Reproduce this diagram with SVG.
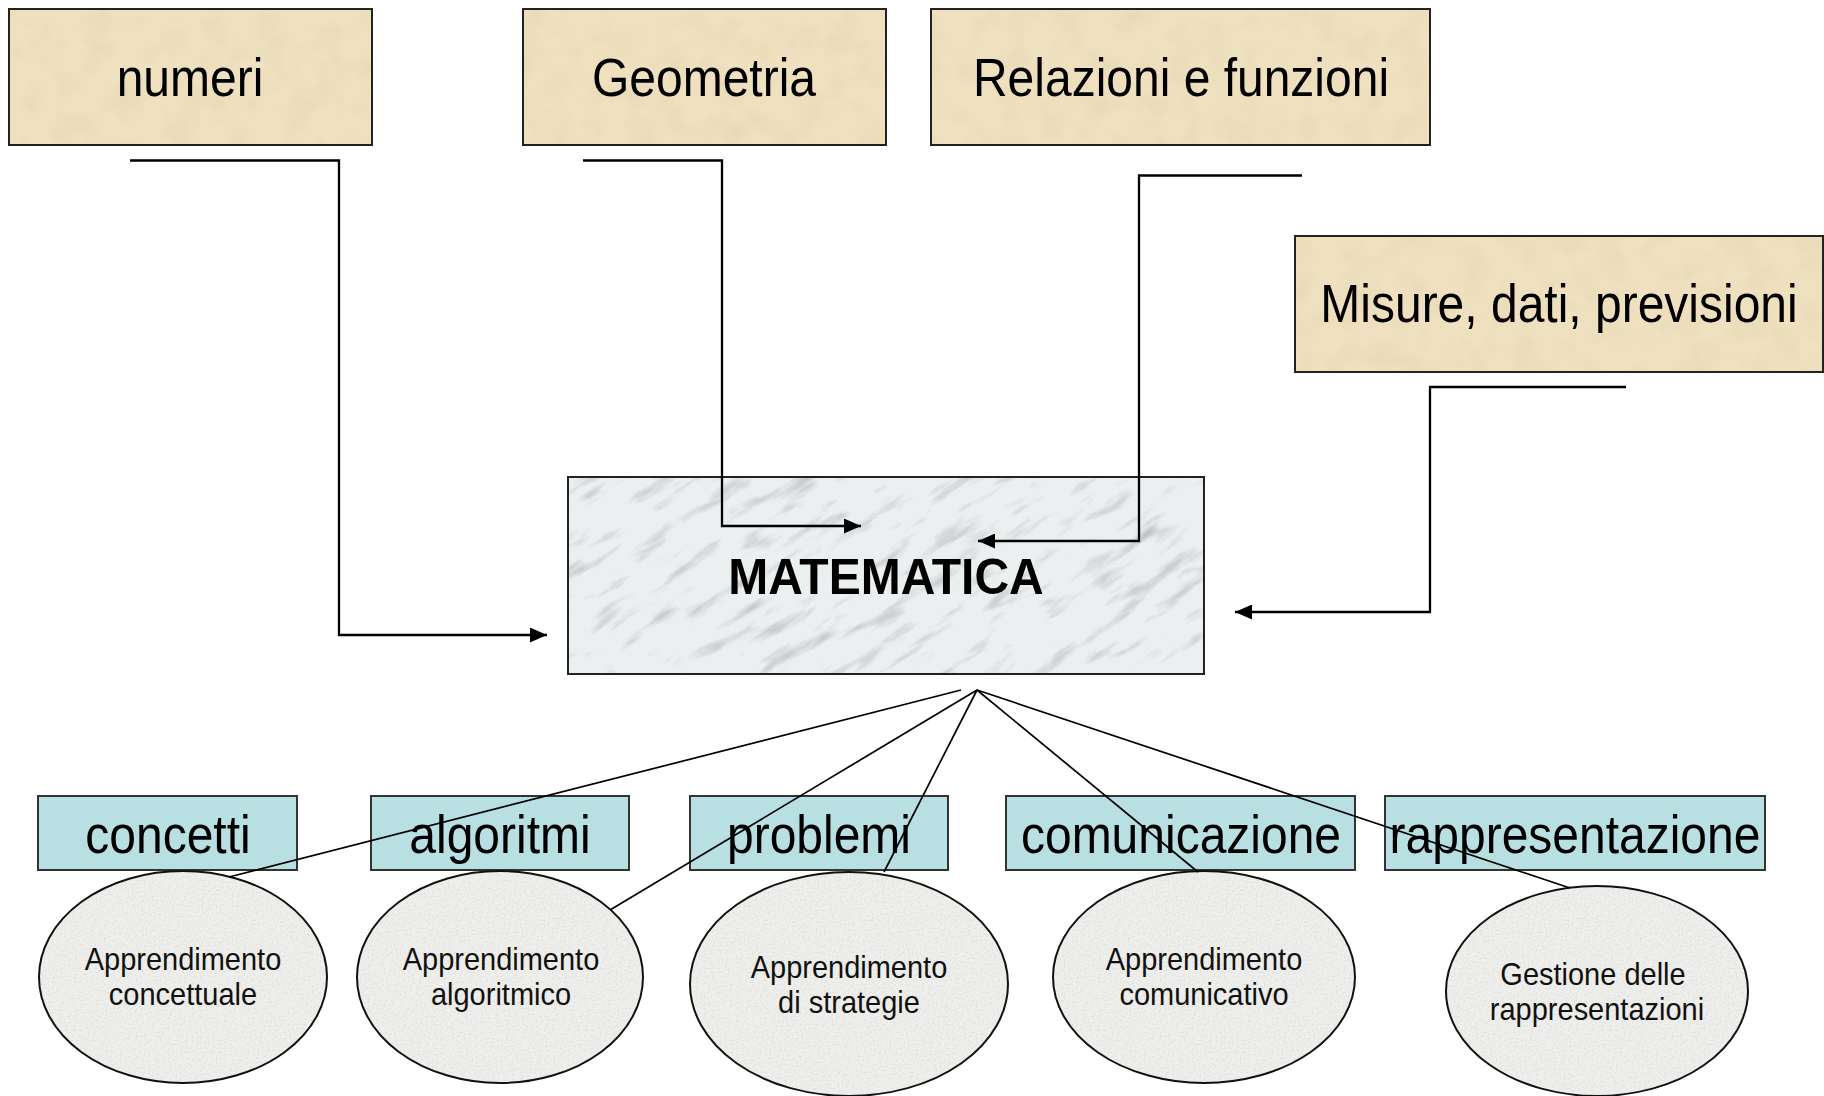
<svg xmlns="http://www.w3.org/2000/svg" width="1824" height="1096" viewBox="0 0 1824 1096">
<style>
.lbl{font-family:"Liberation Sans",Arial,sans-serif;font-size:48px;fill:#000;text-anchor:middle}
.bold{font-weight:bold}
.small{font-family:"Liberation Sans",Arial,sans-serif;font-size:29px;fill:#111;text-anchor:middle}
.parch{fill:#efe1bf}
.box{fill:none;stroke:#222;stroke-width:2}
.cyan{fill:#b8dfe2;stroke:#333;stroke-width:2}
.ell{fill:#efefed}
.eo{fill:none;stroke:#111;stroke-width:2}
.conn{fill:none;stroke:#000;stroke-width:2.3}
.fan{fill:none;stroke:#000;stroke-width:1.7}
</style>
<defs>
<marker id="ah" markerUnits="userSpaceOnUse" markerWidth="17" markerHeight="15" refX="17" refY="7.5" orient="auto">
<path d="M0,0 L17,7.5 L0,15 z" fill="#000"/>
</marker>
<clipPath id="cpMarble"><rect x="568" y="477" width="636" height="197"/></clipPath>
<filter id="fParch" x="0" y="0" width="100%" height="100%">
<feTurbulence type="fractalNoise" baseFrequency="0.035" numOctaves="4" seed="4" result="n"/>
<feColorMatrix in="n" type="matrix" values="0 0 0 0 0.78  0 0 0 0 0.66  0 0 0 0 0.45  1.3 0 0 0 -0.55" result="c"/>
<feComposite in="c" in2="SourceGraphic" operator="in"/>
</filter>
<filter id="fMarble" x="0" y="0" width="100%" height="100%">
<feTurbulence type="fractalNoise" baseFrequency="0.018 0.07" numOctaves="5" seed="11" result="n"/>
<feColorMatrix in="n" type="matrix" values="0 0 0 0 0.45  0 0 0 0 0.47  0 0 0 0 0.5  -2.2 0 0 0 1.0" result="c"/>
<feComposite in="c" in2="SourceGraphic" operator="in"/>
</filter>
<filter id="fGranite" x="0" y="0" width="100%" height="100%">
<feTurbulence type="fractalNoise" baseFrequency="0.5" numOctaves="2" seed="2" result="n"/>
<feColorMatrix in="n" type="matrix" values="0 0 0 0 0.62  0 0 0 0 0.62  0 0 0 0 0.6  1.2 0 0 0 -0.52" result="c"/>
<feComposite in="c" in2="SourceGraphic" operator="in"/>
</filter>
</defs>
<rect x="0" y="0" width="1824" height="1096" fill="#fff"/>

<g id="node-numeri">
<rect class="parch" x="9" y="9" width="363" height="136"/>
<rect x="9" y="9" width="363" height="136" fill="#fff" filter="url(#fParch)"/>
<rect class="box" x="9" y="9" width="363" height="136"/>
<text class="lbl" transform="translate(190,96) scale(1,1.1)">numeri</text>
</g>
<g id="node-geometria">
<rect class="parch" x="523" y="9" width="363" height="136"/>
<rect x="523" y="9" width="363" height="136" fill="#fff" filter="url(#fParch)"/>
<rect class="box" x="523" y="9" width="363" height="136"/>
<text class="lbl" transform="translate(704,96) scale(1,1.1)">Geometria</text>
</g>
<g id="node-relazioni">
<rect class="parch" x="931" y="9" width="499" height="136"/>
<rect x="931" y="9" width="499" height="136" fill="#fff" filter="url(#fParch)"/>
<rect class="box" x="931" y="9" width="499" height="136"/>
<text class="lbl" transform="translate(1181,96) scale(1,1.1)">Relazioni e funzioni</text>
</g>
<g id="node-misure">
<rect class="parch" x="1295" y="236" width="528" height="136"/>
<rect x="1295" y="236" width="528" height="136" fill="#fff" filter="url(#fParch)"/>
<rect class="box" x="1295" y="236" width="528" height="136"/>
<text class="lbl" transform="translate(1559,322) scale(1,1.1)">Misure, dati, previsioni</text>
</g>

<g id="node-matematica">
<rect x="568" y="477" width="636" height="197" fill="#eceff0"/>
<g clip-path="url(#cpMarble)">
<rect x="400" y="200" width="1000" height="800" fill="#fff" filter="url(#fMarble)" transform="rotate(-32 886 575)"/>
</g>
<rect class="box" x="568" y="477" width="636" height="197"/>
<text class="lbl bold" transform="translate(886,594) scale(1,1.05)">MATEMATICA</text>
</g>

<g id="node-concetti">
<rect class="cyan" x="38" y="796" width="259" height="74"/>
<text class="lbl" transform="translate(168,853) scale(1,1.1)">concetti</text>
</g>
<g id="node-algoritmi">
<rect class="cyan" x="371" y="796" width="258" height="74"/>
<text class="lbl" transform="translate(500,853) scale(1,1.1)">algoritmi</text>
</g>
<g id="node-problemi">
<rect class="cyan" x="690" y="796" width="258" height="74"/>
<text class="lbl" transform="translate(819,853) scale(1,1.1)">problemi</text>
</g>
<g id="node-comunicazione">
<rect class="cyan" x="1006" y="796" width="349" height="74"/>
<text class="lbl" transform="translate(1181,853) scale(1,1.1)">comunicazione</text>
</g>
<g id="node-rappresentazione">
<rect class="cyan" x="1385" y="796" width="380" height="74"/>
<text class="lbl" transform="translate(1575,853) scale(1,1.1)">rappresentazione</text>
</g>

<g id="node-app-concettuale">
<ellipse class="ell" cx="183" cy="977" rx="144" ry="106"/>
<ellipse cx="183" cy="977" rx="144" ry="106" fill="#fff" filter="url(#fGranite)"/>
<ellipse class="eo" cx="183" cy="977" rx="144" ry="106"/>
<text class="small" transform="translate(183,970) scale(1,1.1)">Apprendimento</text>
<text class="small" transform="translate(183,1005) scale(1,1.1)">concettuale</text>
</g>
<g id="node-app-algoritmico">
<ellipse class="ell" cx="500" cy="977" rx="143" ry="106"/>
<ellipse cx="500" cy="977" rx="143" ry="106" fill="#fff" filter="url(#fGranite)"/>
<ellipse class="eo" cx="500" cy="977" rx="143" ry="106"/>
<text class="small" transform="translate(501,970) scale(1,1.1)">Apprendimento</text>
<text class="small" transform="translate(501,1005) scale(1,1.1)">algoritmico</text>
</g>
<g id="node-app-strategie">
<ellipse class="ell" cx="849" cy="984" rx="159" ry="112"/>
<ellipse cx="849" cy="984" rx="159" ry="112" fill="#fff" filter="url(#fGranite)"/>
<ellipse class="eo" cx="849" cy="984" rx="159" ry="112"/>
<text class="small" transform="translate(849,978) scale(1,1.1)">Apprendimento</text>
<text class="small" transform="translate(849,1013) scale(1,1.1)">di strategie</text>
</g>
<g id="node-app-comunicativo">
<ellipse class="ell" cx="1204" cy="977" rx="151" ry="106"/>
<ellipse cx="1204" cy="977" rx="151" ry="106" fill="#fff" filter="url(#fGranite)"/>
<ellipse class="eo" cx="1204" cy="977" rx="151" ry="106"/>
<text class="small" transform="translate(1204,970) scale(1,1.1)">Apprendimento</text>
<text class="small" transform="translate(1204,1005) scale(1,1.1)">comunicativo</text>
</g>
<g id="node-gestione">
<ellipse class="ell" cx="1597" cy="991" rx="151" ry="105"/>
<ellipse cx="1597" cy="991" rx="151" ry="105" fill="#fff" filter="url(#fGranite)"/>
<ellipse class="eo" cx="1597" cy="991" rx="151" ry="105"/>
<text class="small" transform="translate(1593,985) scale(1,1.1)">Gestione delle</text>
<text class="small" transform="translate(1597,1020) scale(1,1.1)">rappresentazioni</text>
</g>

<g id="connectors">
<polyline class="conn" points="130,160.5 339,160.5 339,635 547,635" marker-end="url(#ah)"/>
<polyline class="conn" points="583,160.5 722,160.5 722,526 861,526" marker-end="url(#ah)"/>
<polyline class="conn" points="1302,175.5 1139,175.5 1139,541 978,541" marker-end="url(#ah)"/>
<polyline class="conn" points="1626,387 1430,387 1430,612 1235,612" marker-end="url(#ah)"/>
<line class="fan" x1="961" y1="690" x2="229" y2="877"/>
<line class="fan" x1="977" y1="690" x2="610" y2="910"/>
<line class="fan" x1="977" y1="690" x2="884" y2="872"/>
<line class="fan" x1="977" y1="690" x2="1198" y2="872"/>
<line class="fan" x1="977" y1="690" x2="1570" y2="888"/>
</g>
</svg>
